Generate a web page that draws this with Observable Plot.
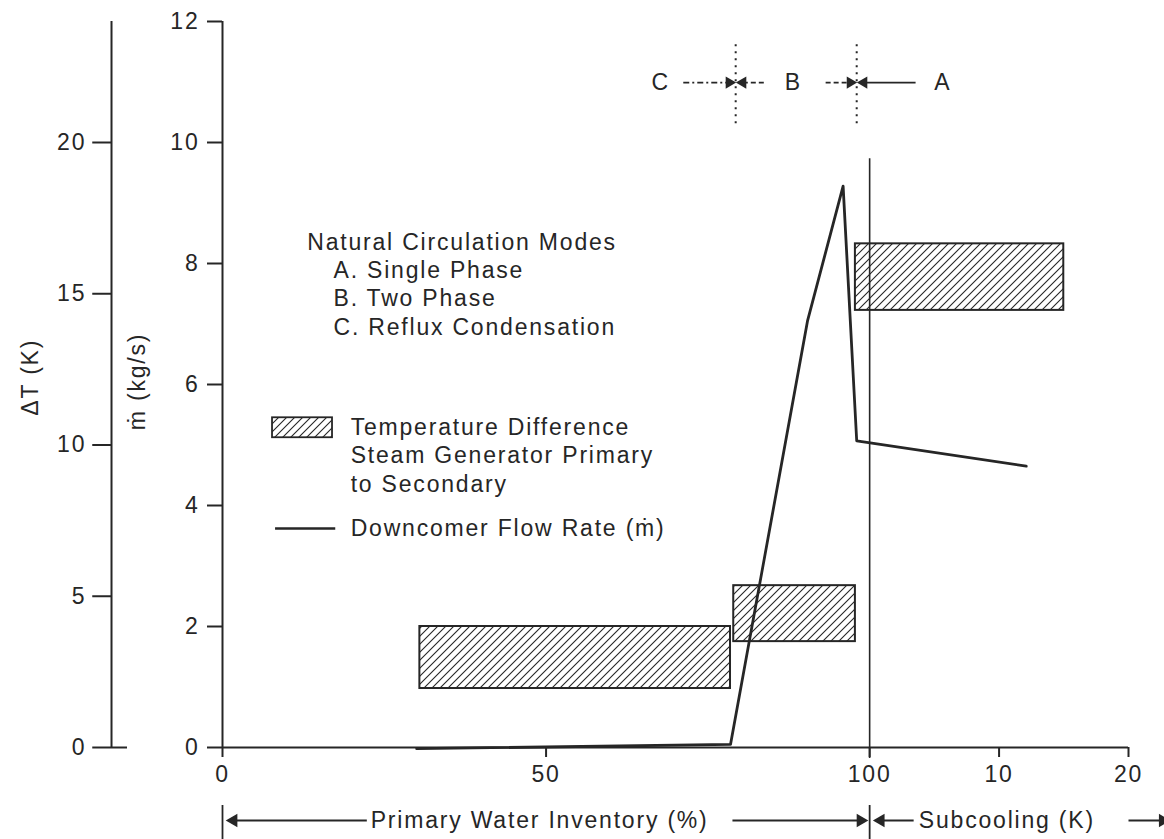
<!DOCTYPE html>
<html><head><meta charset="utf-8">
<script src="https://cdn.jsdelivr.net/npm/d3@7"></script>
<script src="https://cdn.jsdelivr.net/npm/@observablehq/plot@0.6"></script>
<style>
html,body{margin:0;padding:0;background:#fff;}
</style>
</head><body><div id="chart"></div>
<script>
// ---------- data ----------
// Downcomer flow rate (kg/s); position given on the inventory (%) or subcooling (K) part of the x axis
const flowScale = ["inv", "inv", "inv", "inv", "inv", "sub"];
const flowAt    = [30, 78.5, 90.4, 95.9, 98.0, 12.1];
const flowRate  = [-0.02, 0.05, 7.05, 9.28, 5.07, 4.65];

// Temperature difference SG primary to secondary (K), one hatched band per circulation mode
const boxMode      = ["C", "B", "A"];
const boxFromScale = ["inv", "inv", "inv"];
const boxFrom      = [30.5, 79.0, 97.8];
const boxToScale   = ["inv", "inv", "sub"];
const boxTo        = [78.5, 97.8, 15];
const dtLow        = [1.95, 3.5, 14.45];
const dtHigh       = [4.0, 5.35, 16.65];

// mode boundaries (primary water inventory %)
const modeBoundaries = [79.3, 98.0];

// ticks
const mdotTicks = [0, 2, 4, 6, 8, 10, 12];
const dtTicks   = [0, 5, 10, 15, 20];
const invTicks  = [0, 50, 100];
const subTicks  = [10, 20];

// ---------- helpers ----------
// combined x axis: 0..100 % inventory, then subcooling K (10 K spans 20 units)
const pos = (scale, v) => scale === "inv" ? v : 100 + 2 * v;
const DT_PER_MDOT = 2; // ΔT axis: 20 K aligned with 10 kg/s

const flow = flowAt.map((v, i) => ({x: pos(flowScale[i], v), y: flowRate[i]}));
const boxes = boxMode.map((m, i) => ({
  mode: m,
  x1: pos(boxFromScale[i], boxFrom[i]),
  x2: pos(boxToScale[i], boxTo[i]),
  y1: dtLow[i] / DT_PER_MDOT,
  y2: dtHigh[i] / DT_PER_MDOT
}));
const xTickPos = [...invTicks.map(v => pos("inv", v)), ...subTicks.map(v => pos("sub", v))];
const xTickLabel = new Map([...invTicks.map(v => [pos("inv", v), String(v)]), ...subTicks.map(v => [pos("sub", v), String(v)])]);

const INK = "#262626";
const dtAxisX = -17.15;   // ΔT axis placement (data units, left of the plot frame)
const annY = -1.207;      // row of the bottom annotations

// legend / annotation layout (data units)
const legendText = [
  {x: 13.1, y: 8.35, t: "Natural Circulation Modes"},
  {x: 17.15, y: 7.88, t: "A. Single Phase"},
  {x: 17.15, y: 7.42, t: "B. Two Phase"},
  {x: 17.15, y: 6.94, t: "C. Reflux Condensation"},
  {x: 19.8, y: 5.29, t: "Temperature Difference"},
  {x: 19.8, y: 4.83, t: "Steam Generator Primary"},
  {x: 19.8, y: 4.35, t: "to Secondary"},
  {x: 19.8, y: 3.62, t: "Downcomer Flow Rate (ṁ)"}
];
const modeLetters = [
  {x: 67.7, t: "C"}, {x: 88.2, t: "B"}, {x: 111.3, t: "A"}
];
const topY = 10.99;

const chart = Plot.plot({
  width: 1164,
  height: 839,
  marginLeft: 222,
  marginRight: 36,
  marginTop: 21,
  marginBottom: 92,
  x: {domain: [0, 140]},
  y: {domain: [0, 12]},
  style: {
    fontFamily: "'Liberation Sans', Arial, Helvetica, sans-serif",
    fontSize: "23px",
    letterSpacing: "1.8px",
    color: INK,
    background: "#fff",
    overflow: "visible"
  },
  marks: [
    // hatched bands (ΔT)
    Plot.rect(boxes, {x1: "x1", x2: "x2", y1: "y1", y2: "y2", fill: "url(#hatch)", stroke: INK, strokeWidth: 2}),
    // mode-A boundary line at 100 %
    Plot.ruleX([100], {y1: 9.73, y2: -0.18, stroke: INK, strokeWidth: 1.6}),
    // downcomer flow
    Plot.line(flow, {x: "x", y: "y", stroke: INK, strokeWidth: 2.8, strokeLinejoin: "round"}),

    // axes
    Plot.ruleY([0], {x1: 0, x2: 140, stroke: INK, strokeWidth: 2}),
    Plot.ruleX([0], {y1: 0, y2: 12, stroke: INK, strokeWidth: 2}),
    Plot.axisY({ticks: mdotTicks, tickSize: 15, tickPadding: 8, strokeWidth: 2}),
    Plot.axisX({ticks: xTickPos, tickFormat: d => xTickLabel.get(d), tickSize: 10, tickPadding: 8, strokeWidth: 2}),
    // ΔT axis
    Plot.ruleX([dtAxisX], {y1: 0, y2: 12, stroke: INK, strokeWidth: 2}),
    Plot.ruleY(dtTicks, {y: d => d / DT_PER_MDOT, x1: dtAxisX, x2: dtAxisX - 2.9, stroke: INK, strokeWidth: 2}),
    Plot.ruleY([0], {x1: dtAxisX, x2: -14.68, stroke: INK, strokeWidth: 2}),
    Plot.text(dtTicks, {y: d => d / DT_PER_MDOT, x: dtAxisX - 3.9, text: d => String(d), textAnchor: "end", fill: INK}),
    // axis titles
    Plot.text(["ΔT (K)"], {x: -29.7, y: 6.12, rotate: -90, fill: INK}),
    Plot.text(["ṁ (kg/s)"], {x: -13.1, y: 6.05, rotate: -90, fill: INK}),

    // legend
    Plot.text(legendText, {x: "x", y: "y", text: "t", textAnchor: "start", fill: INK}),
    Plot.rect([0], {x1: 7.73, x2: 17.0, y1: 5.12, y2: 5.45, fill: "url(#hatch)", stroke: INK, strokeWidth: 1.8}),
    Plot.ruleY([3.62], {x1: 8.2, x2: 17.5, stroke: INK, strokeWidth: 2.6}),

    // top: mode regions
    Plot.text(modeLetters, {x: "x", y: topY, text: "t", fill: INK}),
    Plot.ruleX(modeBoundaries, {y1: 10.31, y2: 11.64, stroke: INK, strokeWidth: 2, strokeDasharray: "2,5"}),
    Plot.link([{x1: 71.2, x2: 78.3}], {x1: "x1", x2: "x2", y1: topY, y2: topY, stroke: INK, strokeWidth: 1.6, strokeDasharray: "6,3,2,3"}),
    Plot.link([{x1: 80.4, x2: 83.9}], {x1: "x1", x2: "x2", y1: topY, y2: topY, stroke: INK, strokeWidth: 1.6, strokeDasharray: "5,3"}),
    Plot.link([{x1: 93.2, x2: 97.0}], {x1: "x1", x2: "x2", y1: topY, y2: topY, stroke: INK, strokeWidth: 1.6, strokeDasharray: "5,3"}),
    Plot.link([{x1: 99.1, x2: 107.1}], {x1: "x1", x2: "x2", y1: topY, y2: topY, stroke: INK, strokeWidth: 1.8}),
    Plot.dot([78.3, 97.0], {x: d => d, y: topY, symbol: "triangle", rotate: 90, r: 4.5, fill: INK, stroke: "none"}),
    Plot.dot([80.4, 99.1], {x: d => d, y: topY, symbol: "triangle", rotate: -90, r: 4.5, fill: INK, stroke: "none"}),

    // bottom: range annotations
    Plot.ruleX([0, 100], {y1: -0.959, y2: -1.6, stroke: INK, strokeWidth: 1.8}),
    Plot.link([{x1: 1.7, x2: 22.3}, {x1: 78.8, x2: 98.6}, {x1: 101.7, x2: 106.8}, {x1: 140, x2: 146}],
      {x1: "x1", x2: "x2", y1: annY, y2: annY, stroke: INK, strokeWidth: 2}),
    Plot.dot([1.7, 101.7], {x: d => d, y: annY, symbol: "triangle", rotate: -90, r: 5, fill: INK, stroke: "none"}),
    Plot.dot([98.6, 145.3], {x: d => d, y: annY, symbol: "triangle", rotate: 90, r: 5, fill: INK, stroke: "none"}),
    Plot.text(["Primary Water Inventory (%)"], {x: 22.9, y: annY, textAnchor: "start", fill: INK}),
    Plot.text(["Subcooling (K)"], {x: 107.6, y: annY, textAnchor: "start", fill: INK})
  ]
});

// hatch pattern definition
const defs = d3.select(chart).insert("defs", ":first-child");
const pat = defs.append("pattern").attr("id", "hatch").attr("patternUnits", "userSpaceOnUse")
  .attr("width", 8).attr("height", 8);
pat.append("rect").attr("width", 8).attr("height", 8).attr("fill", "#fff");
pat.append("path").attr("d", "M-2,2 L2,-2 M0,8 L8,0 M6,10 L10,6")
  .attr("stroke", INK).attr("stroke-width", 1.1);

document.getElementById("chart").appendChild(chart);
</script>
</body></html>
